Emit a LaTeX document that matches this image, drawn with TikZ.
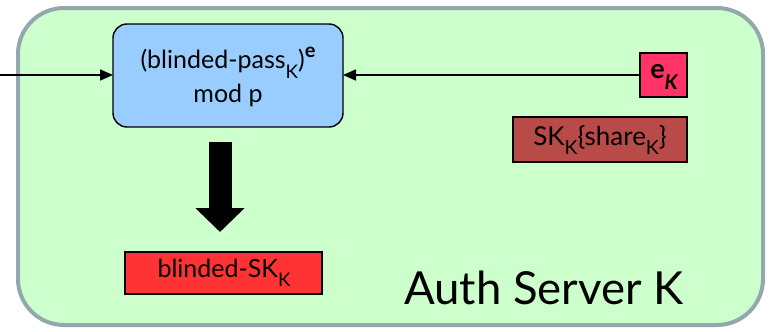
\documentclass[tikz,border=0pt]{standalone}
\usepackage{fontspec}
\setmainfont{Lato}
\usetikzlibrary{arrows.meta,calc}
\newcommand{\lowsub}[1]{\raisebox{-0.38em}{\scalebox{0.75}{#1}}}
\newcommand{\fs}[1]{\fontsize{#1}{#1}\selectfont}
\definecolor{servergreen}{HTML}{CCFFCC}
\definecolor{serverrim}{HTML}{93A8AC}
\definecolor{opblue}{HTML}{99CCFF}
\definecolor{keypink}{HTML}{FF3366}
\definecolor{sharebrown}{HTML}{B84A47}
\definecolor{blindred}{HTML}{FF3333}
\tikzset{
  boxtext/.style={inner sep=0pt, align=center},
  keybox/.style={draw=black, line width=1.4pt},
  thinarrow/.style={line width=1.6pt, -{Triangle[length=13pt,width=11pt]}},
}
\begin{document}
\begin{tikzpicture}[x=1pt,y=-1pt]
\useasboundingbox (0,0) rectangle (769,332);
% server area
\draw[fill=servergreen, draw=serverrim, line width=4pt, rounded corners=46pt]
  (18,8) rectangle (763,325);
% exponentiation step
\draw[keybox, fill=opblue, rounded corners=14pt] (113,24) rectangle (343,127);
\node[boxtext] (op) at (228,77) {\fs{25}(blinded-pass\lowsub{K})\raisebox{0.45em}{\scalebox{0.8}{\bfseries e}}\\[5pt]\fs{25}mod p};
\coordinate (opW) at (113,75);
\coordinate (opE) at (343,75);
% key material
\draw[keybox, fill=keypink] (640,53) rectangle (687,97);
\node[boxtext] (ek) at (664,77) {\fs{27}\bfseries e\lowsub{\itshape K}};
\coordinate (ekW) at (640,75);
\draw[keybox, fill=sharebrown] (513,117) rectangle (687,162);
\node[boxtext] (sk) at (600,140) {\fs{26}SK\lowsub{K}\{share\lowsub{K}\}};
% result
\draw[keybox, fill=blindred] (125,252) rectangle (322,294);
\node[boxtext] (bsk) at (224,273) {\fs{25}blinded-SK\lowsub{K}};
\node[boxtext, anchor=base west] (title) at (404,304) {\fs{45.5}Auth Server K};
% connectors
\coordinate (in) at (0,75);
\draw[thinarrow] (in) -- (opW);
\draw[thinarrow] (ekW) -- (opE);
\coordinate (bigtop) at (220,142);
\coordinate (bigtip) at (220,232);
\draw[line width=23pt, -{Triangle[length=24pt,width=48pt]}] (bigtop) -- (bigtip);
\end{tikzpicture}
\end{document}
